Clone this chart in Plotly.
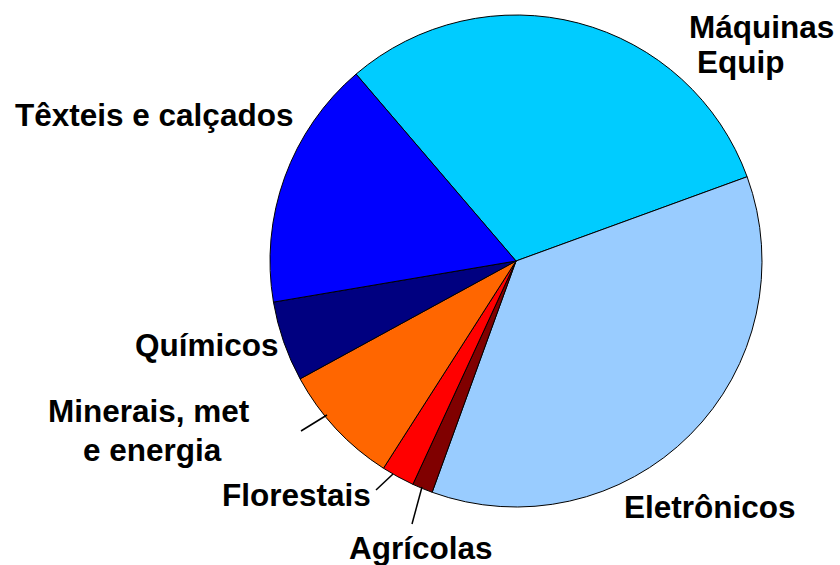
import plotly.graph_objects as go

# Data (clockwise from the Máquinas/Têxteis boundary)
categories = ["Máquinas Equip", "Eletrônicos", "Agrícolas", "Florestais",
              "Minerais, met e energia", "Químicos", "Têxteis e calçados"]
shares = [30.7, 36.1, 1.35, 2.17, 7.99, 5.28, 16.41]
colors = ["#00CCFF", "#99CCFF", "#800000", "#FF0000", "#FF6600", "#000080", "#0000FF"]

W, H = 840, 565


def px(x):
    return x / W


def py(y):
    return 1 - y / H


fig = go.Figure(go.Pie(
    labels=categories,
    values=shares,
    sort=False,
    direction="clockwise",
    rotation=-40.55,
    marker=dict(colors=colors, line=dict(color="#000000", width=1)),
    textinfo="none",
    hoverinfo="label+percent",
    showlegend=False,
    domain=dict(x=[px(270), px(762)], y=[py(507), py(15)]),
))

font = dict(family="Liberation Sans, Arial, sans-serif", size=31.5, color="#000000")
label_lines = [
    ("<b>Máquinas</b>", 687, 27, "left"),
    ("<b>Equip</b>", 695, 62, "left"),
    ("<b>Têxteis e calçados</b>", 13, 115, "left"),
    ("<b>Químicos</b>", 133, 345, "left"),
    ("<b>Minerais, met</b>", 149, 411, "center"),
    ("<b>e energia</b>", 152, 450, "center"),
    ("<b>Florestais</b>", 220, 495, "left"),
    ("<b>Agrícolas</b>", 347, 548, "left"),
    ("<b>Eletrônicos</b>", 622, 507, "left"),
]
annotations = []
for text, x, y, anchor in label_lines:
    annotations.append(dict(
        text=text, x=px(x), y=py(y), xref="paper", yref="paper",
        xanchor=anchor, yanchor="middle", showarrow=False, font=font,
    ))

leaders = [((301, 431), (327, 415)), ((376, 490), (393, 474)), ((412, 524), (422, 487))]
shapes = []
for (x0, y0), (x1, y1) in leaders:
    shapes.append(dict(type="line", xref="paper", yref="paper",
                       x0=px(x0), y0=py(y0), x1=px(x1), y1=py(y1),
                       line=dict(color="#000000", width=1.5)))

fig.update_layout(
    width=W, height=H,
    margin=dict(l=0, r=0, t=0, b=0),
    paper_bgcolor="#FFFFFF",
    plot_bgcolor="#FFFFFF",
    annotations=annotations,
    shapes=shapes,
)

fig.write_html(
    "out.html",
    config={"displayModeBar": False},
    post_script="document.body.style.margin='0';document.body.style.overflow='hidden';",
)
